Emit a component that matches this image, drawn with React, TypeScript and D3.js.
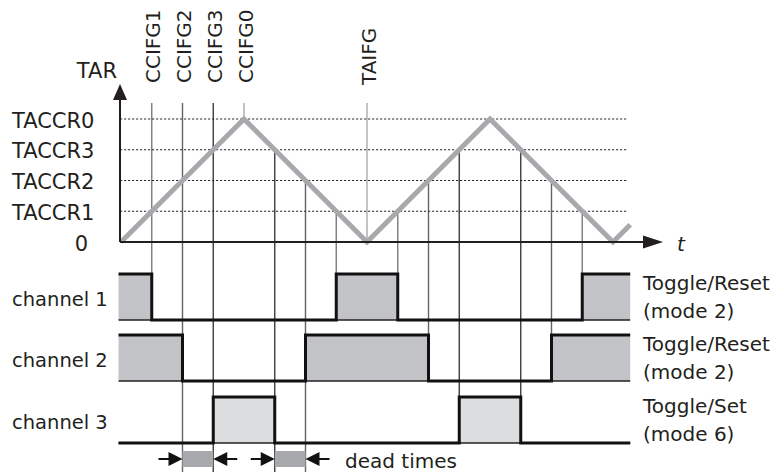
import React from "react";
import * as d3 from "d3";

// ---- data ----
const levelLabels = ["0", "TACCR1", "TACCR2", "TACCR3", "TACCR0"];
const levelValues = [0, 0.25, 0.5, 0.75, 1];

const counterTimes = [0, 1, 2, 3, 4, 4.14];
const counterValues = [0, 1, 0, 1, 0, 0.14];

const eventTimes = [0.25, 0.5, 0.75, 1, 1.25, 1.5, 1.75, 2, 2.25, 2.5, 2.75, 3.25, 3.5, 3.75];
const flagLabels = ["CCIFG1", "CCIFG2", "CCIFG3", "CCIFG0", "TAIFG"];
const flagTimes = [0.25, 0.5, 0.75, 1, 2];

const channelNames = ["channel 1", "channel 2", "channel 3"];
const channelModes = [
  ["Toggle/Reset", "(mode 2)"],
  ["Toggle/Reset", "(mode 2)"],
  ["Toggle/Set", "(mode 6)"],
];
const ch1Steps: [number, number][] = [[-0.02, 1], [0.25, 0], [1.75, 1], [2.25, 0], [3.75, 1], [4.14, 1]];
const ch2Steps: [number, number][] = [[-0.02, 1], [0.5, 0], [1.5, 1], [2.5, 0], [3.5, 1], [4.14, 1]];
const ch3Steps: [number, number][] = [[-0.02, 0], [0.75, 1], [1.25, 0], [2.75, 1], [3.25, 0], [4.14, 0]];
const channelSteps = [ch1Steps, ch2Steps, ch3Steps];

const deadTimes: [number, number][] = [[0.5, 0.75], [1.25, 1.5]];

// ---- layout ----
const W = 779, H = 472;
const FONT = "DejaVu Sans";
const x = d3.scaleLinear().domain([0, 4]).range([121, 613]);
const y = d3.scaleLinear().domain([0, 1]).range([242, 119]);
const axisX = 120;
const chBase = [320, 381, 443];
const chHigh = 46;
const deadY0 = 451, deadY1 = 467;

const counterAt = (t: number) => {
  const p = t % 2;
  return p <= 1 ? p : 2 - p;
};

const levelColor = (v: number) => {
  if (Math.abs(v - 0.25) < 1e-6) return "#7a7a7a";
  if (Math.abs(v - 0.5) < 1e-6) return "#636363";
  if (Math.abs(v - 0.75) < 1e-6) return "#3c3c3c";
  return "#a9a9ab";
};

export default function App() {
  const counterLine = d3.line<number>()
    .x((_, i) => x(counterTimes[i]))
    .y((d) => y(d))(counterValues) as string;

  const vlines = eventTimes.map((t) => {
    const v = counterAt(t);
    const labeled = flagTimes.includes(t);
    const y0 = labeled ? 103 : y(v);
    let y1: number;
    if (Math.abs(v - 1) < 1e-6) y1 = y(1);
    else if (Math.abs(v) < 1e-6) y1 = y(0);
    else if (Math.abs(v - 0.25) < 1e-6) y1 = chBase[0];
    else if (Math.abs(v - 0.5) < 1e-6) y1 = t < 2 ? 472 : chBase[1];
    else y1 = t < 2 ? 472 : chBase[2];
    return { t, y0, y1, color: levelColor(v) };
  });

  return (
    <svg width={W} height={H} style={{ position: "absolute", left: 0, top: 0, background: "#fff" }}
      fontFamily={FONT}>
      {/* vertical event lines */}
      {vlines.map((l, i) => (
        <line key={"v" + i} x1={x(l.t)} x2={x(l.t)} y1={l.y0} y2={l.y1} stroke={l.color} strokeWidth={1.4} />
      ))}
      {/* dotted level lines */}
      {levelValues.slice(1).map((v, i) => (
        <line key={"g" + i} x1={axisX} x2={628} y1={y(v)} y2={y(v)} stroke="#2a2a2a" strokeWidth={1.1}
          strokeDasharray="2.2,1.8" />
      ))}
      {/* level labels */}
      {levelLabels.map((lab, i) => (
        <text key={"l" + i} x={lab === "0" ? 88 : 12} y={y(levelValues[i]) + 8.5}
          textAnchor={lab === "0" ? "end" : "start"} fontSize={21} fill="#231f20">{lab}</text>
      ))}
      {/* flag labels */}
      {flagLabels.map((lab, i) => (
        <text key={"f" + i} transform={`translate(${x(flagTimes[i]) + 8.5},${lab === "TAIFG" ? 85 : 83}) rotate(-90)`}
          fontSize={20} fill="#231f20">{lab}</text>
      ))}
      {/* counter triangle */}
      <path d={counterLine} fill="none" stroke="#a7a9ac" strokeWidth={5} strokeLinejoin="miter" />
      {/* axes */}
      <line x1={axisX} x2={axisX} y1={242} y2={98} stroke="#231f20" strokeWidth={2} />
      <path d={`M${axisX},84 L${axisX - 7},100 L${axisX + 7},100 Z`} fill="#231f20" />
      <line x1={axisX} x2={646} y1={242} y2={242} stroke="#231f20" strokeWidth={2} />
      <path d={`M663,242 L643,235.5 L643,248.5 Z`} fill="#231f20" />
      <text x={117} y={78} textAnchor="end" fontSize={21} fill="#231f20">TAR</text>
      <text x={677} y={251} fontSize={20} fontStyle="italic" fill="#231f20">t</text>

      {/* channels */}
      {channelSteps.map((steps, ci) => {
        const base = chBase[ci];
        const area = d3.area<[number, number]>()
          .curve(d3.curveStepAfter)
          .x((d) => x(d[0]))
          .y0(base)
          .y1((d) => base - d[1] * chHigh)(steps) as string;
        const line = d3.line<[number, number]>()
          .curve(d3.curveStepAfter)
          .x((d) => x(d[0]))
          .y((d) => base - d[1] * chHigh)(steps) as string;
        return (
          <g key={"c" + ci}>
            <path d={area} fill={ci === 2 ? "#dcdddf" : "#c2c3c6"} />
            <line x1={x(steps[0][0])} x2={x(steps[steps.length - 1][0])} y1={base} y2={base}
              stroke="#231f20" strokeWidth={1.5} />
            <path d={line} fill="none" stroke="#111" strokeWidth={3} strokeLinejoin="miter" />
            <text x={12} y={base - 14} fontSize={19.5} fill="#231f20">{channelNames[ci]}</text>
            <text x={643} y={base - 30} fontSize={20} fill="#231f20">{channelModes[ci][0]}</text>
            <text x={643} y={base - 2.5} fontSize={20} fill="#231f20">{channelModes[ci][1]}</text>
          </g>
        );
      })}

      {/* dead times */}
      {deadTimes.map(([a, b], i) => {
        const xa = x(a), xb = x(b), ym = (deadY0 + deadY1) / 2;
        return (
          <g key={"d" + i}>
            <rect x={xa} y={deadY0} width={xb - xa} height={deadY1 - deadY0} fill="#a8a9ac" />
            <line x1={xa - 24} x2={xa - 10} y1={ym} y2={ym} stroke="#111" strokeWidth={2} />
            <path d={`M${xa},${ym} L${xa - 14},${ym - 7} L${xa - 14},${ym + 7} Z`} fill="#111" />
            <line x1={xb + 10} x2={xb + 24} y1={ym} y2={ym} stroke="#111" strokeWidth={2} />
            <path d={`M${xb},${ym} L${xb + 14},${ym - 7} L${xb + 14},${ym + 7} Z`} fill="#111" />
          </g>
        );
      })}
      <text x={345} y={468} fontSize={20} fill="#231f20">dead times</text>
    </svg>
  );
}
